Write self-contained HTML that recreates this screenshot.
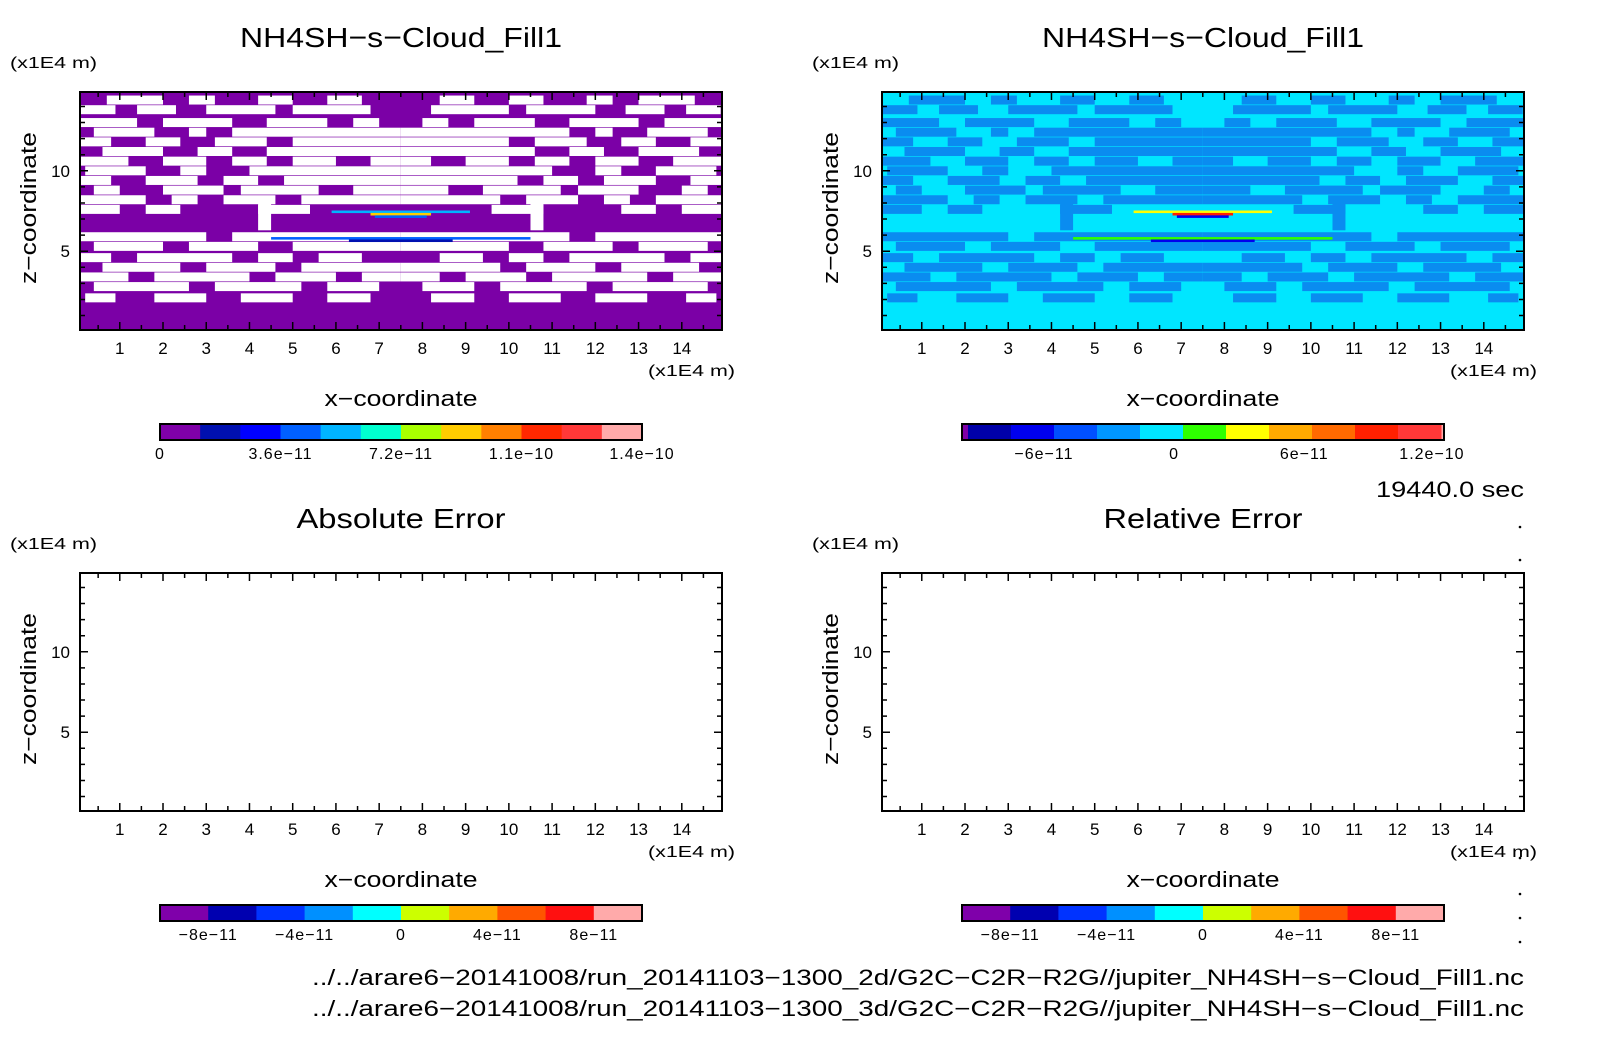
<!DOCTYPE html>
<html><head><meta charset="utf-8"><style>
body{margin:0;background:#fff;}
svg{display:block;font-family:"Liberation Sans",sans-serif;}
</style></head><body>
<svg id="fig" width="1604" height="1054" viewBox="0 0 1604 1054" xmlns="http://www.w3.org/2000/svg"></svg>
<script>
// ---- data ----
const xTicks=[1,2,3,4,5,6,7,8,9,10,11,12,13,14];
const yTicks=[5,10];
// white (left) / blue (right) stripe segments: [z, x0, x1] for left half (mirrored)
const stripeZ=[14.4,13.8,13.0,12.4,11.8,11.2,10.6,10.0,9.4,8.8,8.2,7.6,5.9,5.3,4.6,4.0,3.4,2.8,2.1];
const stripeSegs=[
 [[0.7,2.0],[2.6,3.2],[4.2,5.0],[5.8,6.6]],
 [[0.1,0.9],[1.4,2.3],[3.0,4.6],[5.0,6.8]],
 [[0.0,1.4],[2.0,3.6],[4.4,5.8],[6.4,7.0]],
 [[0.4,1.8],[2.6,3.0],[3.6,7.5]],
 [[0.0,0.8],[1.6,2.4],[3.2,4.4],[5.0,7.5]],
 [[0.6,2.0],[2.8,3.6],[4.4,7.5]],
 [[0.0,1.2],[2.0,3.0],[3.6,4.4],[5.0,6.0],[6.8,7.5]],
 [[0.2,1.6],[2.4,3.0],[4.0,7.5]],
 [[0.0,0.8],[1.6,2.8],[3.4,4.2],[4.8,7.5]],
 [[0.4,1.0],[2.0,3.4],[3.8,5.6],[6.4,7.5]],
 [[0.0,1.6],[2.2,2.8],[3.4,4.6],[5.2,7.5]],
 [[0.0,1.0],[1.6,2.4],[4.2,5.4]],
 [[0.0,3.0],[3.6,7.5]],
 [[0.4,2.0],[2.6,4.2],[5.0,7.5]],
 [[0.0,0.8],[1.4,3.6],[4.2,5.0],[5.6,6.6]],
 [[0.6,2.4],[3.0,4.6],[5.2,7.5]],
 [[0.0,1.2],[1.8,4.0],[4.6,6.0],[6.6,7.5]],
 [[0.4,2.6],[3.2,5.2],[5.8,7.0]],
 [[0.2,0.9],[1.8,3.0],[3.8,5.0],[5.8,6.8]]
];
// small colored features near centre
const blobZ=[7.45,7.3,7.15,5.8,5.65];
const blobX0=[5.9,6.8,6.9,4.5,6.3];
const blobX1=[9.1,8.2,8.1,10.5,8.7];
const blobColL=["#00b4ff","#ffcc00","#0060ff","#0060ff","#0010b0"];
const blobColR=["#ffff00","#ff2000","#0000ee","#2eff00","#0000ee"];
const cb1Cols=["#7f00a8","#0010b0","#0000ff","#0060ff","#00b4ff","#00ffd0","#a8ff00","#ffcc00","#ff8000","#ff2800","#ff3838","#ffaaaa"];
const cb1Labels=["0","3.6e-11","7.2e-11","1.1e-10","1.4e-10"];
const cb1Pos=[0,0.25,0.5,0.75,1];
const cb2Cols=["#0000a8","#0000ee","#0050ff","#0096ff","#00e6ff","#2eff00","#ffff00","#ffaa00","#ff6a00","#ff2000","#ff3838"];
const cb2Labels=["-6e-11","0","6e-11","1.2e-10"];
const cb2Pos=[0.17,0.44,0.71,0.975];
const cb3Cols=["#7f00aa","#0000b0","#0033ff","#0090ff","#00ffff","#ccff00","#ffaa00","#ff5500","#ff1010","#ffaaaa"];
const cb3Labels=["-8e-11","-4e-11","0","4e-11","8e-11"];
const cb3Pos=[0.1,0.3,0.5,0.7,0.9];

// ---- drawing ----
const NS="http://www.w3.org/2000/svg";
const svg=document.getElementById('fig');
function mk(tag,attrs,parent,txt){const e=document.createElementNS(NS,tag);for(const k in attrs)e.setAttribute(k,attrs[k]);if(txt!==undefined)e.textContent=txt;(parent||svg).appendChild(e);return e;}
const XMIN=0.08,XMAX=14.93,ZMIN=0.1,ZMAX=14.9;
const HALF=0.28;

function panel(px,py,title,titleLen,name,mode,cbCols,cbLabels,cbPos,cbEndL,cbEndR){
  const W=642,H=238;
  const g=mk('g',{});
  
  
  const sx=x=>px+(x-XMIN)/(XMAX-XMIN)*W;
  const sz=z=>py+H-(z-ZMIN)/(ZMAX-ZMIN)*H;
  const t=mk('text',{x:px+W/2,y:py-45,'font-size':28,'text-anchor':'middle',textLength:titleLen,lengthAdjust:'spacingAndGlyphs'},g,title);
  
  
  if(mode){
    const bg=mode==='L'?'#7b00a6':'#00e6ff', fg=mode==='L'?'#ffffff':'#0a8cf0';
    const r=mk('rect',{x:px,y:py,width:W,height:H,fill:bg},g);
    
    
    stripeZ.forEach((z,i)=>{
      stripeSegs[i].forEach(s=>{
        [[s[0],s[1]],[15-s[1],15-s[0]]].forEach(([a,b])=>{
          const a2=Math.max(a,XMIN),b2=Math.min(b,XMAX);
          const c=mk('rect',{x:sx(a2),y:sz(z+HALF),width:sx(b2)-sx(a2),height:sz(z-HALF)-sz(z+HALF),fill:fg},g);
          
          
        });
      });
    });
    [[4.2,4.5],[10.5,10.8]].forEach(([a,b])=>{
      const v=mk('rect',{x:sx(a),y:sz(8.0),width:sx(b)-sx(a),height:sz(6.3)-sz(8.0),fill:fg},g);
      
      
    });
    blobZ.forEach((z,i)=>{
      const b=mk('rect',{x:sx(blobX0[i]),y:sz(z+0.08),width:sx(blobX1[i])-sx(blobX0[i]),height:sz(z-0.08)-sz(z+0.08),fill:mode==='L'?blobColL[i]:blobColR[i]},g);
      
      
    });
  }
  const f=mk('rect',{x:px,y:py,width:W,height:H,fill:'none',stroke:'#000','stroke-width':2},g);
  
  
  let d='';
  for(let x=0.5;x<XMAX;x+=0.5){if(x<XMIN)continue;const L=Number.isInteger(x)?8:5;d+=`M${sx(x)},${py+H}v${-L}M${sx(x)},${py}v${L}`;}
  for(let z=1;z<ZMAX;z+=1){const L=(z%5===0)?8:5;d+=`M${px},${sz(z)}h${L}M${px+W},${sz(z)}h${-L}`;}
  const tk=mk('path',{d:d,stroke:'#000','stroke-width':1.5,fill:'none'},g);
  
  
  xTicks.forEach(v=>{const e=mk('text',{x:sx(v),y:py+H+24,'font-size':17,'text-anchor':'middle'},g,String(v));
    });
  yTicks.forEach(v=>{const e=mk('text',{x:px-10,y:sz(v)+6,'font-size':17,'text-anchor':'end'},g,String(v));
    });
  const u1=mk('text',{x:px-70,y:py-24,'font-size':16,textLength:87,lengthAdjust:'spacingAndGlyphs'},g,'(x1E4 m)');
  
  const u2=mk('text',{x:px+W-74,y:py+H+46,'font-size':16,textLength:87,lengthAdjust:'spacingAndGlyphs'},g,'(x1E4 m)');
  
  const xt=mk('text',{x:px+W/2,y:py+H+76,'font-size':22,'text-anchor':'middle',textLength:153,lengthAdjust:'spacingAndGlyphs'},g,'x\u2212coordinate');
  
  const yt=mk('text',{x:0,y:0,'font-size':22,'text-anchor':'middle',textLength:152,lengthAdjust:'spacingAndGlyphs',transform:`translate(${px-44},${py+H/2-3}) rotate(-90)`},g,'z\u2212coordinate');
  
  // colorbar
  const cx=px+80,cy=py+H+94,cw=482,ch=16;
  const cg=mk('g',{},g);
  
  
  let x0=cx+cbEndL, inner=cw-cbEndL-cbEndR, bw=inner/cbCols.length;
  if(cbEndL)mk('rect',{x:cx,y:cy,width:cbEndL,height:ch,fill:'#7f00a8'},cg);
  if(cbEndR)mk('rect',{x:cx+cw-cbEndR,y:cy,width:cbEndR,height:ch,fill:'#ffaaaa'},cg);
  cbCols.forEach((c,i)=>{const r=mk('rect',{x:x0+i*bw,y:cy,width:bw+0.5,height:ch,fill:c},cg);
    });
  mk('rect',{x:cx,y:cy,width:cw,height:ch,fill:'none',stroke:'#000','stroke-width':2},cg);
  cbLabels.forEach((l,i)=>{const e=mk('text',{x:cx+cbPos[i]*cw,y:cy+35,'font-size':16,'text-anchor':'middle','letter-spacing':1},cg,l.replace(/-/g,'\u2212'));
    });
}
panel(80,92,'NH4SH\u2212s\u2212Cloud_Fill1',322,'panel-2d-field','L',cb1Cols,cb1Labels,cb1Pos,0,0);
panel(882,92,'NH4SH\u2212s\u2212Cloud_Fill1',322,'panel-3d-field','R',cb2Cols,cb2Labels,cb2Pos,6,3);
panel(80,573,'Absolute Error',209,'panel-absolute-error',null,cb3Cols,cb3Labels,cb3Pos,0,0);
panel(882,573,'Relative Error',199,'panel-relative-error',null,cb3Cols,cb3Labels,cb3Pos,0,0);
const tm=mk('text',{x:1376,y:497,'font-size':22,textLength:148,lengthAdjust:'spacingAndGlyphs'},svg,'19440.0 sec');

const p1=mk('text',{x:312,y:985,'font-size':22,textLength:1212,lengthAdjust:'spacingAndGlyphs'},svg,'../../arare6\u221220141008/run_20141103\u22121300_2d/G2C\u2212C2R\u2212R2G//jupiter_NH4SH\u2212s\u2212Cloud_Fill1.nc');

const p2=mk('text',{x:312,y:1016,'font-size':22,textLength:1212,lengthAdjust:'spacingAndGlyphs'},svg,'../../arare6\u221220141008/run_20141103\u22121300_3d/G2C\u2212C2R\u2212R2G//jupiter_NH4SH\u2212s\u2212Cloud_Fill1.nc');

[527,560,858,894,918,942].forEach(y=>{const d=mk('circle',{cx:1520,cy:y,r:1.3,fill:'#000'},svg);
  });
</script>
</body></html>
